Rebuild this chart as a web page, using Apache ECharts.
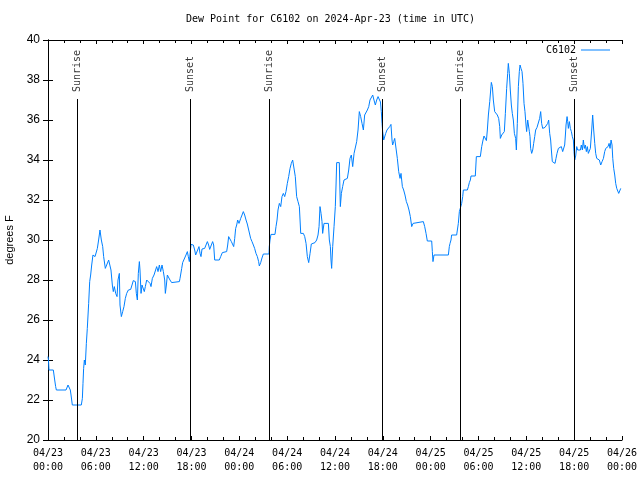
<!DOCTYPE html>
<html><head><meta charset="utf-8">
<script src="https://cdn.jsdelivr.net/npm/echarts@6/dist/echarts.min.js"></script>
<style>html,body{margin:0;padding:0;background:#fff}#c{width:640px;height:480px}</style>
</head><body><div id="c"></div>
<script>
const titleText = 'Dew Point for C6102 on 2024-Apr-23 (time in UTC)';
const seriesName = 'C6102';
const yAxisName = 'degrees F';
// hours since 2024-04-23 00:00 UTC
const hours = [0,0.06,0.125,0.67,0.84,0.96,1.05,2.26,2.51,2.68,2.80,2.89,3.05,4.18,4.31,4.39,4.47,4.56,4.68,4.81,4.93,5.10,5.23,5.35,5.48,5.64,5.90,6.02,6.19,6.35,6.52,6.69,6.86,6.98,7.19,7.44,7.61,7.74,7.90,8.07,8.19,8.32,8.49,8.66,8.78,8.95,9.03,9.20,9.37,9.53,9.70,9.87,10.08,10.37,10.54,10.70,10.96,11.08,11.21,11.33,11.46,11.54,11.67,11.79,11.92,12.08,12.21,12.38,12.59,12.80,12.92,13.09,13.30,13.46,13.63,13.80,13.97,14.13,14.30,14.47,14.64,14.72,14.85,14.97,15.14,15.30,15.51,15.72,16.48,
16.56,16.77,16.89,17.14,17.31,17.48,17.60,17.73,17.85,17.94,18.23,18.40,18.52,18.77,18.94,19.07,19.19,19.32,19.65,19.82,19.99,20.15,20.28,20.53,20.65,20.78,20.91,21.49,21.66,21.87,22.04,22.41,22.54,22.66,22.83,23.0,23.17,23.29,23.42,23.54,23.67,23.79,23.96,24.17,24.34,24.50,24.67,24.84,25.0,25.25,25.42,25.59,25.76,25.92,26.09,26.26,26.42,26.51,
26.68,26.84,27.01,27.72,27.76,27.85,27.97,28.47,28.60,28.73,28.85,29.02,29.19,29.35,29.52,29.69,29.85,30.02,30.19,30.36,30.52,30.69,30.86,31.02,31.19,31.36,31.53,31.70,32.03,32.20,32.37,32.53,32.70,32.87,33.03,33.20,33.49,33.70,33.87,34.0,34.12,34.25,34.37,34.45,34.62,35.17,35.29,35.42,35.50,35.58,35.71,35.88,36.04,36.13,36.21,36.54,36.67,36.80,36.96,37.13,37.30,37.55,37.72,37.88,38.05,38.22,38.39,38.55,38.72,38.89,39.05,39.22,39.39,39.56,39.72,39.89,40.06,40.23,
40.39,40.56,40.73,40.89,41.06,41.23,41.40,41.56,41.70,41.81,41.90,41.98,42.11,42.23,42.36,42.52,42.69,42.86,43.02,43.15,43.23,43.36,43.49,43.65,43.82,43.99,44.16,44.28,44.45,44.61,44.78,44.95,45.11,45.28,45.45,45.62,45.79,45.95,47.08,47.25,47.42,47.58,48.13,48.21,48.29,48.42,50.22,50.34,
50.43,50.55,50.63,51.26,51.35,51.47,51.60,51.72,51.81,51.89,52.02,52.10,52.60,52.73,52.85,52.98,53.06,53.60,53.73,54.23,54.40,54.57,54.69,54.86,54.99,55.11,55.24,55.41,55.53,55.61,55.74,55.86,56.03,56.20,56.36,56.53,56.66,56.74,56.91,57.07,57.24,57.37,57.53,57.66,57.74,57.87,57.99,58.12,58.24,58.37,58.50,58.66,58.75,58.87,59.0,59.12,59.21,59.33,59.46,59.58,59.71,59.83,59.96,60.04,60.17,60.29,60.38,60.46,60.54,60.67,60.80,60.92,61.05,61.17,61.34,61.51,61.67,61.80,61.92,62.05,62.22,62.34,62.51,62.68,62.80,62.93,63.05,63.14,63.26,63.39,63.60,63.72,63.85,64.02,64.14,64.27,64.39,64.56,64.69,64.81,64.90,64.98,65.11,65.19,65.27,65.40,65.52,65.65,65.77,65.90,65.98,66.07,66.19,66.32,66.44,66.61,66.78,66.90,67.03,67.15,67.28,67.40,67.53,67.65,67.78,67.91,68.03,68.20,68.32,68.45,68.58,68.70,68.83,69.0,69.16,69.33,69.50,69.67,69.83,69.96,70.08,70.25,70.38,70.50,70.63,70.75,70.84,70.96,71.09,71.21,71.34,71.46,71.59,71.71,71.84];
const dewPoint = [24.17,24.0,23.5,23.5,23.0,22.67,22.5,22.5,22.75,22.75,22.5,22.25,21.75,21.75,22.08,22.83,23.58,24.0,23.75,24.83,25.58,26.83,27.92,28.25,28.75,29.25,29.17,29.08,29.58,30.0,30.5,30.0,29.67,29.17,28.58,28.58,29.0,28.92,28.5,27.75,27.42,27.67,27.33,27.17,28.0,28.33,26.75,26.17,26.42,26.67,27.08,27.33,27.5,27.53,27.75,27.97,27.92,27.33,27.0,28.33,28.92,28.5,27.33,27.75,27.67,27.42,27.67,28.0,28.03,27.83,27.67,28.08,28.25,28.33,28.67,28.42,28.75,28.42,28.75,28.42,28.0,27.33,27.75,28.25,28.17,28.0,27.87,27.92,27.92,
28.08,28.58,28.87,28.92,29.25,29.42,29.17,28.92,29.42,29.78,29.75,29.5,29.25,29.25,29.67,29.33,29.17,29.55,29.58,29.75,29.92,29.75,29.53,29.58,29.92,29.75,29.0,29.0,29.17,29.37,29.42,29.42,29.75,30.17,30.08,29.92,29.83,29.67,30.08,30.58,30.75,31.0,30.83,31.08,31.25,31.42,31.25,31.0,30.8,30.75,30.08,29.92,29.75,29.58,29.33,29.17,28.92,28.7,
28.87,29.1,29.3,29.3,29.67,30.0,30.28,30.28,30.67,31.0,31.5,31.83,31.67,32.17,32.33,32.17,32.42,32.83,33.17,33.58,33.83,34.0,33.92,33.17,32.17,31.92,31.67,30.33,30.33,30.17,29.83,29.17,28.87,29.33,29.8,29.87,29.87,30.0,30.25,30.67,31.67,31.33,30.92,30.33,30.83,30.83,30.0,29.67,29.0,28.58,29.67,30.67,31.67,32.75,33.87,33.87,31.67,32.33,32.67,33.0,33.08,33.08,33.5,34.08,34.25,33.67,34.33,34.42,34.92,35.5,36.42,36.17,35.83,35.5,36.25,36.33,36.5,36.67,
37.0,37.0,37.25,37.0,36.75,37.0,37.17,37.2,36.9,36.42,35.83,35.42,35.0,35.08,35.33,35.5,35.58,35.67,35.78,35.0,34.75,34.92,35.08,35.0,34.08,33.42,33.08,33.33,32.67,32.5,32.25,31.92,31.75,31.5,31.17,30.67,30.83,30.92,30.92,30.67,30.33,29.95,29.95,29.42,28.92,29.25,29.25,29.67,
29.83,30.0,30.25,30.25,30.5,30.83,31.42,31.33,31.5,31.83,32.17,32.5,32.5,32.67,32.87,33.0,33.2,33.2,34.17,34.17,34.67,35.0,35.2,35.13,34.97,35.5,36.25,36.92,37.5,37.88,37.67,37.0,36.42,36.33,36.25,36.08,35.67,35.08,35.25,35.33,35.42,36.33,37.58,38.33,38.83,38.33,37.5,36.75,36.33,36.0,35.33,35.08,34.5,35.83,37.67,38.42,38.75,38.58,38.42,37.83,36.83,36.42,35.75,35.42,36.0,36.03,35.42,35.17,34.58,34.33,34.5,34.83,35.17,35.5,35.63,35.63,36.08,36.42,35.83,35.58,35.5,35.63,35.63,35.83,36.0,35.33,35.0,34.5,33.92,33.87,33.83,34.08,34.33,34.58,34.67,34.58,34.67,34.42,34.37,34.75,35.25,35.75,36.17,35.92,35.58,35.92,35.58,35.42,35.17,35.0,34.42,34.0,34.2,34.67,34.5,34.58,34.5,34.75,34.5,35.0,34.58,34.75,34.42,34.67,34.33,34.42,34.58,35.5,36.25,35.5,34.83,34.33,34.08,34.08,34.0,33.75,33.92,34.08,34.42,34.58,34.67,34.67,34.83,34.58,35.0,34.75,34.08,33.58,33.25,32.83,32.58,32.5,32.33,32.25,32.58];
const eventNames = ['Sunrise','Sunset','Sunrise','Sunset','Sunrise','Sunset'];
const eventHours = [3.68,17.87,27.74,41.94,51.75,66.0];
const xTickLabels = ['04/23\n00:00','04/23\n06:00','04/23\n12:00','04/23\n18:00','04/24\n00:00','04/24\n06:00','04/24\n12:00','04/24\n18:00','04/25\n00:00','04/25\n06:00','04/25\n12:00','04/25\n18:00','04/26\n00:00'];

const mono = 'DejaVu Sans Mono';
const lineTop = 37.05, labelAt = 37.4;
const dpData = hours.map((h, i) => [h, dewPoint[i]]);
const axisLine = {show: true, lineStyle: {color: '#000', width: 1}};
const chart = echarts.init(document.getElementById('c'), null, {renderer: 'canvas'});
chart.setOption({
  animation: false,
  backgroundColor: '#fff',
  title: {text: titleText, left: 186, top: 14, padding: 0,
    textStyle: {fontFamily: mono, fontSize: 10, fontWeight: 'normal', color: '#000'}},
  legend: {show: true, data: [{name: seriesName, icon: 'rect'}], right: 30, top: 45, orient: 'horizontal', align: 'right',
    itemWidth: 29, itemHeight: 1, padding: 0, itemStyle: {color: '#0080ff'},
    textStyle: {fontFamily: mono, fontSize: 10, color: '#000'}},
  grid: {left: 48, right: 18, top: 40, bottom: 40, containLabel: false, outerBoundsMode: 'none'},
  xAxis: [
    {type: 'value', min: 0, max: 72, interval: 6, position: 'bottom', axisLine,
     axisTick: {show: true, inside: true, length: 4, lineStyle: {color: '#000'}},
     minorTick: {show: true, splitNumber: 3, length: 3, lineStyle: {color: '#000'}},
     splitLine: {show: false}, minorSplitLine: {show: false},
     axisLabel: {margin: 6, fontFamily: mono, fontSize: 10, color: '#000', lineHeight: 14,
       formatter: v => xTickLabels[Math.round(v / 6)]}},
    {type: 'value', min: 0, max: 72, interval: 6, position: 'top', axisLine,
     axisTick: {show: true, inside: true, length: 4, lineStyle: {color: '#000'}},
     minorTick: {show: true, splitNumber: 3, length: 3, lineStyle: {color: '#000'}},
     splitLine: {show: false}, axisLabel: {show: false}}
  ],
  yAxis: [
    {type: 'value', min: 20, max: 40, interval: 2, position: 'left', axisLine,
     name: yAxisName, nameLocation: 'middle', nameGap: 32,
     nameTextStyle: {fontFamily: 'Liberation Sans', fontSize: 11, color: '#000'},
     axisTick: {show: true, inside: true, length: 5, lineStyle: {color: '#000'}},
     splitLine: {show: false},
     axisLabel: {margin: 8, fontFamily: 'Liberation Sans', fontSize: 12, color: '#000'}},
    {type: 'value', min: 20, max: 40, interval: 2, position: 'right', axisLine,
     axisTick: {show: true, inside: true, length: 5, lineStyle: {color: '#000'}},
     splitLine: {show: false}, axisLabel: {show: false}}
  ],
  series: [
    {name: seriesName, type: 'line', xAxisIndex: 0, yAxisIndex: 0, data: dpData, symbol: 'none', showSymbol: false,
     lineStyle: {color: '#0080ff', width: 1}, itemStyle: {color: '#0080ff'}, z: 3},
    {name: 'events', type: 'scatter', xAxisIndex: 0, yAxisIndex: 0, symbolSize: 1, silent: true,
     itemStyle: {color: 'rgba(0,0,0,0)'},
     data: eventHours.map((h, i) => ({value: [h, labelAt], name: eventNames[i]})),
     label: {show: true, formatter: p => p.name, rotate: 90, position: 'inside', align: 'left', verticalAlign: 'middle',
       fontFamily: mono, fontSize: 10, color: '#000'},
     markLine: {silent: true, symbol: 'none', animation: false,
       lineStyle: {color: '#000', width: 1, type: 'solid'}, label: {show: false},
       data: eventHours.map(h => [{coord: [h, 20]}, {coord: [h, lineTop]}])},
     z: 1}
  ]
});
</script></body></html>
